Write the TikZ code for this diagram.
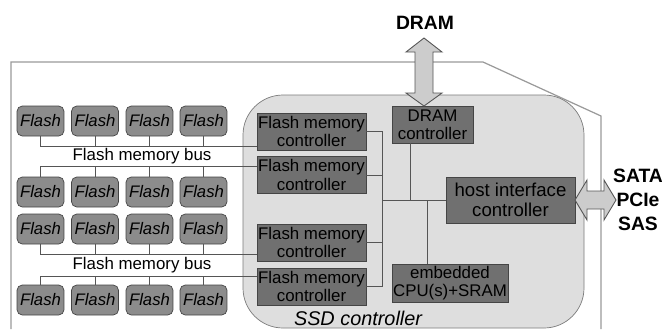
\documentclass[tikz,border=0pt]{standalone}
\usepackage{fontspec}
\setmainfont{Liberation Sans}
\definecolor{FlashGray}{HTML}{8C8C8C}
\definecolor{CtrlGray}{HTML}{707070}
\definecolor{EdgeDark}{HTML}{454545}
\definecolor{PanelGray}{HTML}{DEDEDE}
\definecolor{LineGray}{HTML}{555555}
\definecolor{CaseGray}{HTML}{9A9A9A}
\definecolor{ArrowGray}{HTML}{CCCCCC}
\usetikzlibrary{positioning, calc}

\tikzset{
  flashbox/.style={draw=EdgeDark, fill=FlashGray, rounded corners=3pt, minimum width=0.94cm, minimum height=0.6cm, inner sep=0pt, font=\fontsize{9.5}{10}\selectfont\itshape},
  ctrlbox/.style={draw=EdgeDark, fill=CtrlGray, align=center, inner sep=0pt, font=\fontsize{9.6}{10.3}\selectfont},
  bus/.style={draw=LineGray, line width=0.5pt},
  fatarrow/.style={draw=LineGray, fill=ArrowGray, line width=0.5pt},
  extlabel/.style={font=\fontsize{11}{13.6}\selectfont\bfseries, align=center, inner sep=0pt}
}

\begin{document}
\begin{tikzpicture}[x=0.02cm, y=-0.02cm]
  \useasboundingbox (0,0) rectangle (662,329);

  % drive case
  \draw[CaseGray, line width=0.7pt] (11,329) -- (11,62) -- (483,62) -- (601,116) -- (601,329);

  % SSD controller panel
  \draw[CaseGray!80!black, fill=PanelGray, rounded corners=0.8cm] (243,95) rectangle (584,328);
  \node[font=\fontsize{11.3}{12}\selectfont\itshape] (ssdlbl) at (358,318) {SSD controller};

  % Flash chips
  \foreach \r/\y in {1/121, 2/192, 3/229, 4/300} {
    \foreach \c/\x in {1/40.5, 2/95, 3/149.5, 4/203.5} {
      \node[flashbox] (f\r\c) at (\x,\y) {Flash};
    }
  }

  % channel controllers
  \node[ctrlbox, minimum width=2.18cm, minimum height=0.74cm] (ctrl1) at (311.5,131.5) {Flash memory\\controller};
  \node[ctrlbox, minimum width=2.18cm, minimum height=0.74cm] (ctrl2) at (311.5,175) {Flash memory\\controller};
  \node[ctrlbox, minimum width=2.18cm, minimum height=0.74cm] (ctrl3) at (311.5,242.5) {Flash memory\\controller};
  \node[ctrlbox, minimum width=2.18cm, minimum height=0.74cm] (ctrl4) at (311.5,286.5) {Flash memory\\controller};

  \node[ctrlbox, minimum width=1.62cm, minimum height=0.74cm] (dramc) at (432.5,124.5) {DRAM\\controller};
  \node[ctrlbox, minimum width=2.58cm, minimum height=0.92cm, font=\fontsize{10.6}{11.3}\selectfont] (host) at (510.5,200) {host interface\\controller};
  \node[ctrlbox, minimum width=2.32cm, minimum height=0.76cm] (cpu) at (450,283) {embedded\\CPU(s)+SRAM};

  % flash memory buses
  \coordinate (busA) at (0,146);
  \coordinate (busB) at (0,166);
  \coordinate (busC) at (0,254);
  \coordinate (busD) at (0,276);
  \draw[bus] (f11.south) |- (busA -| ctrl1.west);
  \draw[bus] (f21.north) |- (busB -| ctrl2.west);
  \draw[bus] (f31.south) |- (busC -| ctrl3.west);
  \draw[bus] (f41.north) |- (busD -| ctrl4.west);
  \foreach \c in {2,3,4} {
    \draw[bus] (f1\c.south) -- (f1\c.south |- busA);
    \draw[bus] (f2\c.north) -- (f2\c.north |- busB);
    \draw[bus] (f3\c.south) -- (f3\c.south |- busC);
    \draw[bus] (f4\c.north) -- (f4\c.north |- busD);
  }
  \node[font=\fontsize{9.6}{10}\selectfont] (busl1) at (142,156) {Flash memory bus};
  \node[font=\fontsize{9.6}{10}\selectfont] (busl2) at (142,265) {Flash memory bus};

  % internal interconnect
  \coordinate (jn) at (382,200);
  \coordinate (dj) at (410,200);
  \coordinate (cj) at (427,200);
  \draw[bus] (ctrl1.east) -| (jn |- ctrl4.east) -- (ctrl4.east);
  \draw[bus] (ctrl2.east) -- (ctrl2.east -| jn);
  \draw[bus] (ctrl3.east) -- (ctrl3.east -| jn);
  \draw[bus] (jn) -- (host.west);
  \draw[bus] (dj |- dramc.south) -- (dj);
  \draw[bus] (cj) -- (cj |- cpu.north);

  % external interfaces
  \node[extlabel] (dramlbl) at (425,23) {DRAM};
  \node[extlabel] (ifacelbl) at (638,200) {SATA\\PCIe\\SAS};
  \draw[fatarrow] (424,38) -- (442,52) -- (433,52) -- (433,93) -- (442,93) -- (424,106)
    -- (406,93) -- (415,93) -- (415,52) -- (406,52) -- cycle;
  \draw[fatarrow] (575,200) -- (587,180) -- (587,191) -- (604,191) -- (604,180) -- (616,200)
    -- (604,220) -- (604,209) -- (587,209) -- (587,220) -- cycle;
\end{tikzpicture}
\end{document}
